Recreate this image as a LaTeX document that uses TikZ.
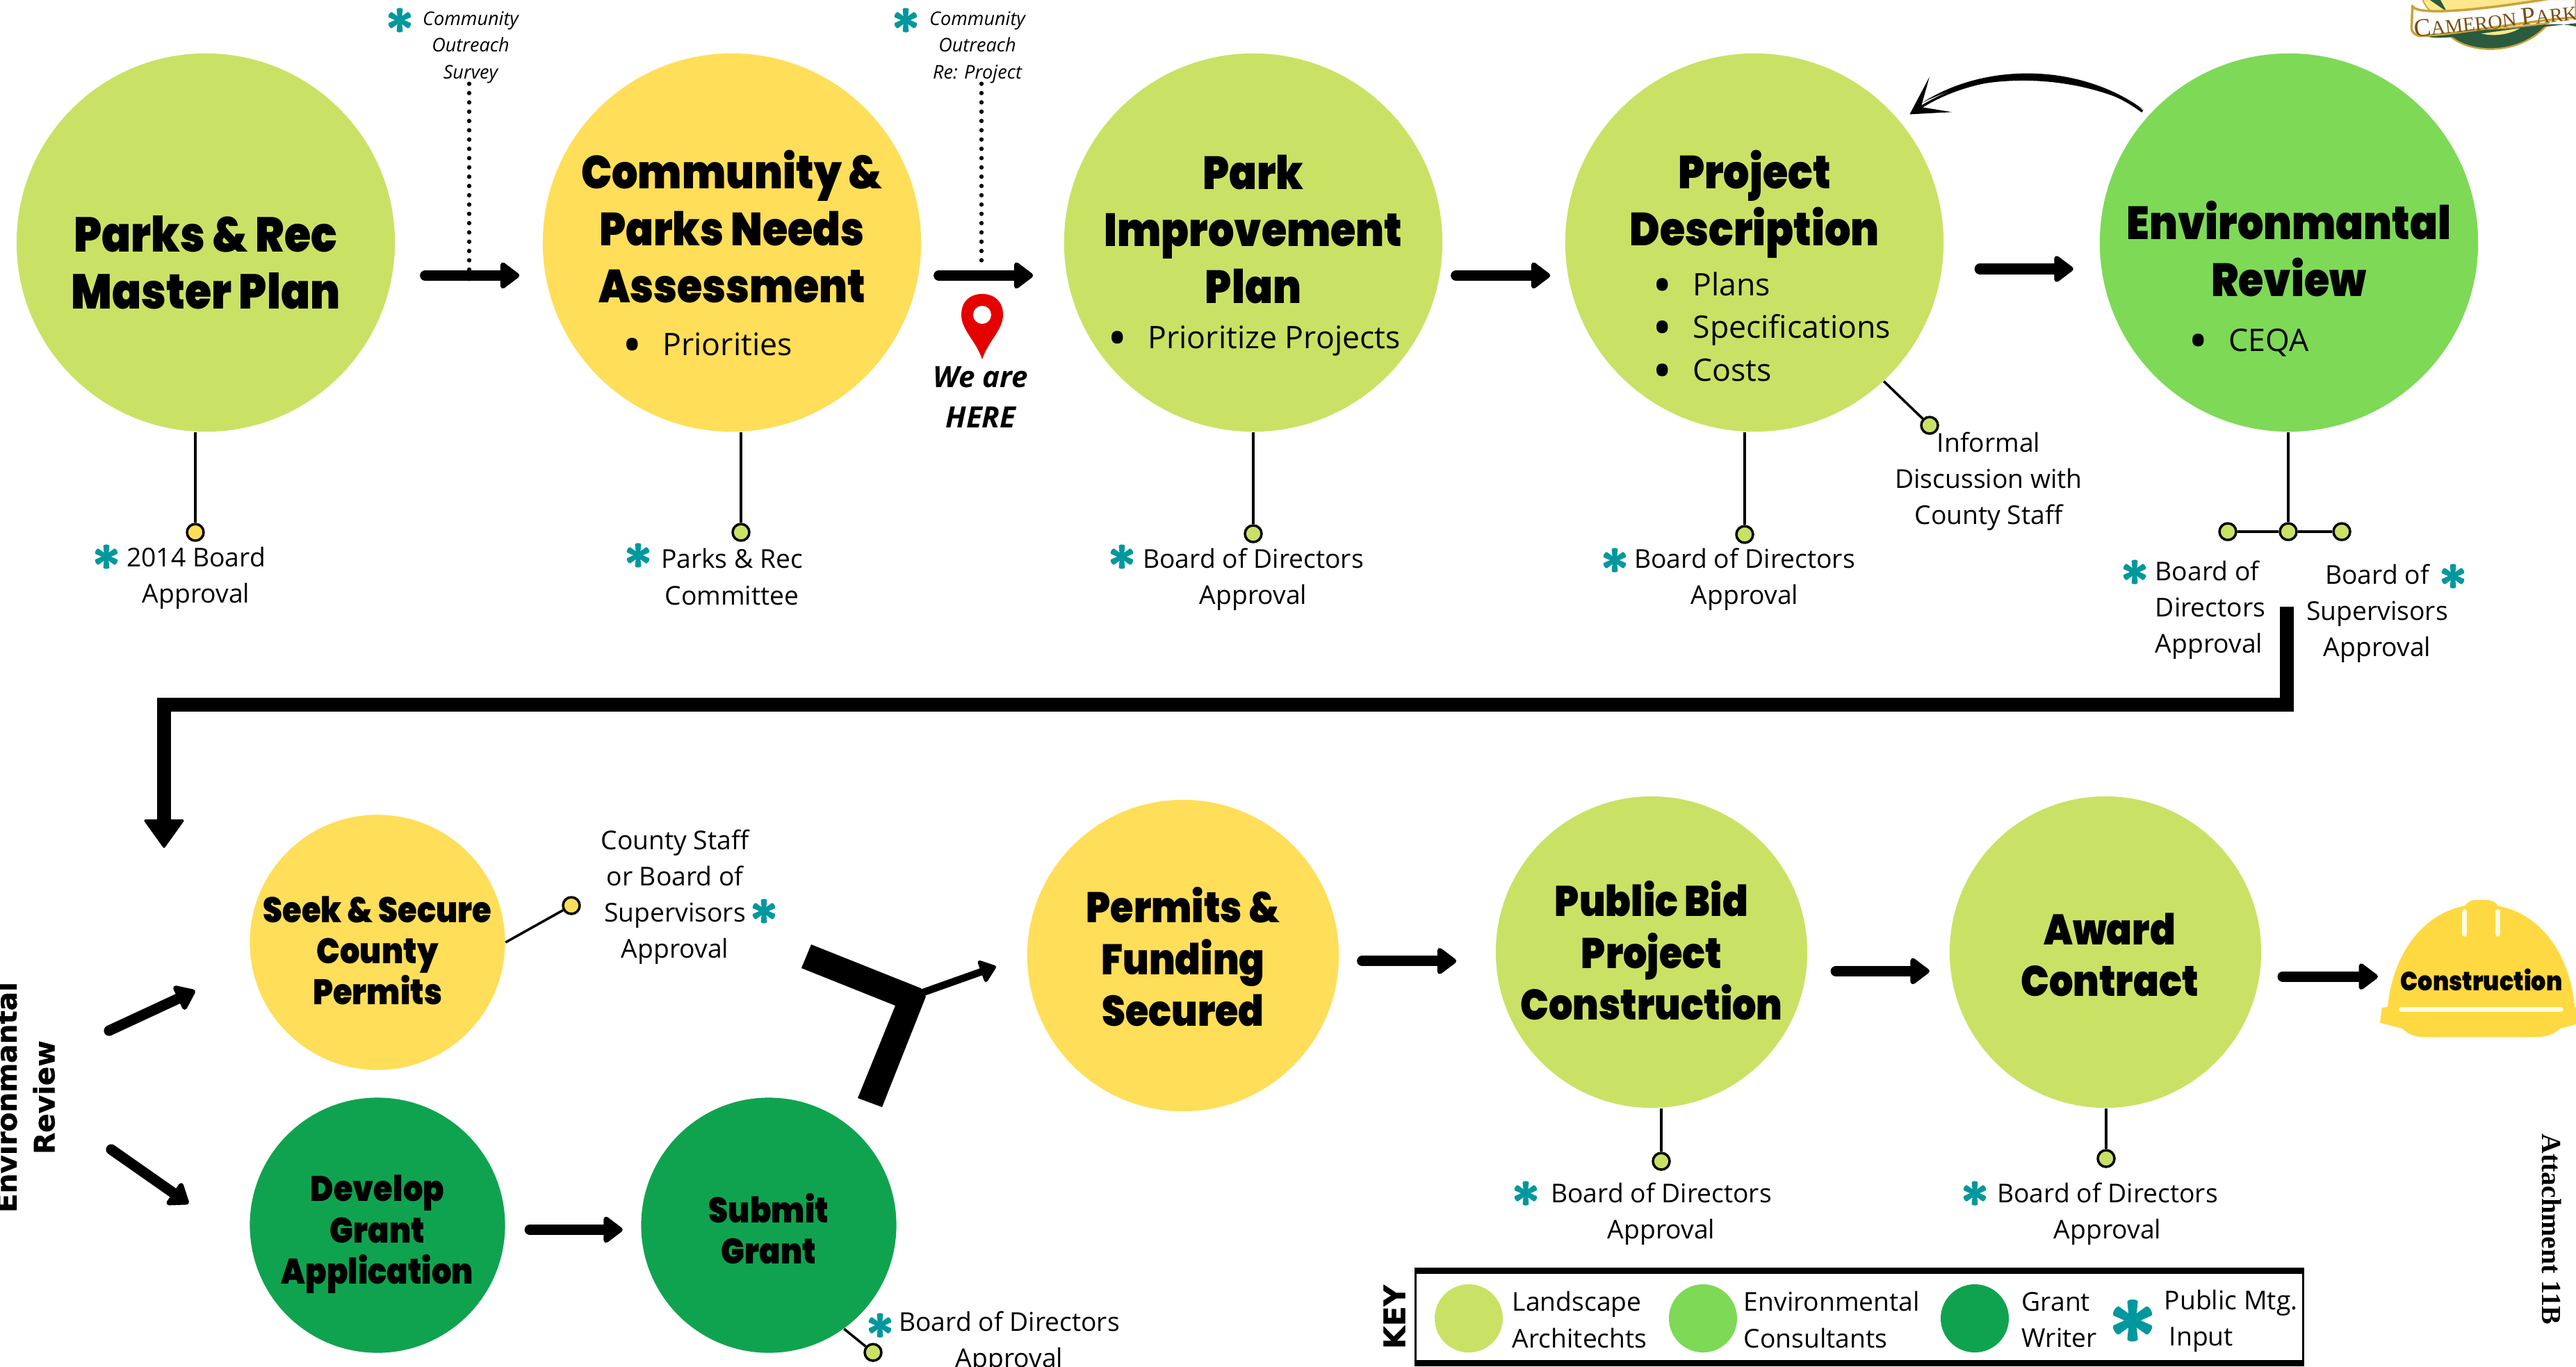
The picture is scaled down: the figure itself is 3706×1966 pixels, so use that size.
\documentclass[tikz,border=0pt]{standalone}
\usepackage{fontspec}
\usetikzlibrary{arrows.meta}
\setmainfont{Open Sans}
\newfontfamily\headfont{Poppins}[UprightFont=* Black,FakeStretch=0.88]
\newfontfamily\widefont{DejaVu Sans}[UprightFont=* Bold,FakeBold=1]
\newfontfamily\slabfont{Liberation Serif}[UprightFont=* Bold]
\newfontfamily\logofont{Liberation Serif}
\definecolor{limeC}{HTML}{C9E265}
\definecolor{yellowC}{HTML}{FFDE59}
\definecolor{mintC}{HTML}{7ED957}
\definecolor{greenC}{HTML}{10A34F}
\definecolor{tealC}{HTML}{00989E}
\definecolor{hatC}{HTML}{FFD942}
\definecolor{paleC}{HTML}{FFFDE0}
\definecolor{brownC}{HTML}{7A4E12}
\definecolor{goldC}{HTML}{C9A33A}
\definecolor{pineC}{HTML}{2A5B3F}
\newcommand{\blt}{\makebox[15pt][l]{\hspace*{-1.6pt}\raisebox{-.27em}[0pt][0pt]{\scalebox{1.7}{\textbullet}}}}
\tikzset{
	bubble/.style={circle,inner sep=0pt,minimum size=#1},
	bubble/.default=5.44cm,
	headA/.style={inner sep=0pt,align=center,font=\headfont\fontsize{19}{23.2}\selectfont},
	headB/.style={inner sep=0pt,align=center,font=\headfont\fontsize{17.5}{21.2}\selectfont},
	headC/.style={inner sep=0pt,align=center,font=\headfont\fontsize{14.5}{16.8}\selectfont},
	body/.style={inner sep=0pt,align=center,font=\fontsize{10.6}{14.8}\selectfont},
	bodyL/.style={inner sep=0pt,align=left,font=\fontsize{10.6}{14.8}\selectfont},
	note/.style={inner sep=0pt,align=center,font=\itshape\fontsize{7.7}{11}\selectfont},
	bullets/.style={inner sep=0pt,anchor=west,align=left,font=\fontsize{12.7}{17.5}\selectfont},
	knob/.style={circle,draw=black,line width=1pt,inner sep=0pt,minimum size=0.24cm},
	stem/.style={line width=1pt,line cap=butt},
	flow/.style={line width=4.3pt,line cap=round,-{Triangle[length=8.5pt,width=12.2pt,round,line width=2pt]}},
	thinflow/.style={line width=3pt,line cap=round,-{Triangle[length=7pt,width=10.5pt,round,line width=1.5pt]}},
	bigflow/.style={line width=5.7pt,line join=miter,-{Triangle[length=12pt,width=17pt,round,line width=1pt]}},
	dots/.style={line width=1.8pt,line cap=round,dash pattern=on 0pt off 3.8pt},
	pics/tealstar/.style={code={
		\foreach \a in {0,60,...,300}
			\fill[tealC,rotate=\a] (-2.8,0) -- (-4.4,-15.5) .. controls (-4.5,-18.3) and (4.5,-18.3) .. (4.4,-15.5) -- (2.8,0) -- cycle;
	}}
}
\begin{document}
\begin{tikzpicture}[x=0.01cm,y=-0.01cm,line join=round]
	\useasboundingbox (0,0) rectangle (3706,1966);
	% logo
	\begin{scope}[shift={(3400,0)},scale=1/3]
		\fill[pineC,draw=goldC,line width=0.7pt] (370,150) .. controls (450,235) and (680,245) .. (800,100) -- cycle;
		\fill[pineC] (225,140) .. controls (300,175) and (340,160) .. (400,160) -- (918,100) -- (918,115) .. controls (850,100) and (800,100) .. (740,120) -- cycle;
		\fill[yellowC!70!white,draw=goldC,line width=0.5pt] (255,-5) .. controls (270,40) and (300,60) .. (340,70) -- (860,-5) -- cycle;
		\fill[pineC] (280,-5) -- (360,50) -- (330,-5) -- cycle;
		\fill[white,draw=goldC,line width=1pt] (212,25) .. controls (220,60) and (400,60) .. (800,-5) -- (918,-5) -- (918,75) .. controls (700,90) and (400,150) .. (240,155) .. controls (225,150) and (210,140) .. (208,125) -- cycle;
		\fill[yellowC!70!white] (510,145) .. controls (570,160) and (640,145) .. (675,122) -- cycle;
	\end{scope}
	\node[rotate=6,inner sep=0pt,text=brownC,font=\logofont] (logotxt) at (3590,29)
		{\fontsize{10.4}{10.4}\selectfont C\fontsize{8.1}{8.1}\selectfont AMERON \fontsize{10.4}{10.4}\selectfont P\fontsize{8.1}{8.1}\selectfont ARK};
	% top row
	\node[bubble,fill=limeC] (master) at (296,349) {};
	\node[bubble,fill=yellowC] (needs) at (1053,349) {};
	\node[bubble,fill=limeC] (improve) at (1803,349) {};
	\node[bubble,fill=limeC] (descr) at (2524,349) {};
	\node[bubble,fill=mintC] (review) at (3293,349) {};
	\node[headA,font=\headfont\fontsize{20}{23.2}\selectfont] (masterT) at (296,378) {Parks \& Rec\\Master Plan};
	\node[headA] (needsT) at (1053,326) {Community \&\\Parks Needs\\Assessment};
	\node[headA] (improveT) at (1803,330) {Park\\Improvement\\Plan};
	\node[headA] (descrT) at (2524,294) {Project\\Description};
	\node[headA] (reviewT) at (3293,358) {Environmantal\\Review};
	\node[bullets] (needsB) at (900,495) {\blt Priorities};
	\node[bullets] (improveB) at (1598,490) {\blt Prioritize Projects};
	\node[bullets] (descrB) at (2382,470) {\blt Plans\\\blt Specifications\\\blt Costs};
	\node[bullets] (reviewB) at (3153,493) {\blt CEQA};
	% flow of the top row
	\draw[flow,shorten <=0.47cm,shorten >=0.37cm] (master.-10) -- (needs.190);
	\draw[flow,shorten <=0.29cm,shorten >=0.48cm] (needs.-10) -- (improve.190);
	\draw[flow,shorten <=0.23cm,shorten >=0.25cm] (improve.-10) -- (descr.190);
	\draw[flow,shorten <=0.54cm,shorten >=0.4cm] (descr.-8) -- (review.188);
	\draw[line width=1pt,line cap=butt,shorten <=0.1cm,shorten >=0.17cm,-{Stealth[length=15pt,width=17pt,inset=9.5pt]}] (review.138) .. controls (2995,95) and (2853,97) .. (descr.40);
	\fill (3084,158) .. controls (2995,92) and (2858,88) .. (2765,148) .. controls (2858,100) and (2995,108) .. cycle;
	% outreach
	\node[note] (survey) at (677,68) {Community\\Outreach\\Survey};
	\node[note] (outreach) at (1406,68) {Community\\Outreach\\Re: Project};
	\pic at (575,29) {tealstar};
	\pic at (1303,29) {tealstar};
	\coordinate (surveyEnd) at (675,406);
	\coordinate (outreachEnd) at (1412,384);
	\draw[dots] (surveyEnd |- survey.south) -- (surveyEnd);
	\draw[dots] (outreachEnd |- outreach.south) -- (outreachEnd);
	% we are here
	\fill[red!90!black] (1383,453) .. controls (1383,433) and (1396,423) .. (1413,423) .. controls (1430,423) and (1443,433) .. (1443,453) .. controls (1443,475) and (1422,490) .. (1413,517) .. controls (1404,490) and (1383,475) .. cycle;
	\fill[white] (1413,453) circle (13);
	\node[inner sep=0pt,align=center,font=\bfseries\itshape\fontsize{12}{16.5}\selectfont] (here) at (1411,571) {We are\\HERE};
	% approvals of the top row
	\node[knob,fill=yellowC] (kMaster) at (281,766) {};
	\node[knob,fill=limeC] (kNeeds) at (1066,766) {};
	\node[knob,fill=limeC] (kImprove) at (1803,768) {};
	\node[knob,fill=limeC] (kDescr) at (2510,769) {};
	\node[knob,fill=limeC] (kStaff) at (2776,612) {};
	\node[knob,fill=limeC] (kReview) at (3292,765) {};
	\node[knob,fill=limeC] (kBoard) at (3205,765) {};
	\node[knob,fill=limeC] (kSuper) at (3369,765) {};
	\draw[stem] (master.south -| kMaster) -- (kMaster);
	\draw[stem] (needs.south -| kNeeds) -- (kNeeds);
	\draw[stem] (improve.south -| kImprove) -- (kImprove);
	\draw[stem] (descr.south -| kDescr) -- (kDescr);
	\draw[stem] (descr.-47) -- (kStaff);
	\draw[stem] (review.south -| kReview) -- (kReview);
	\draw[stem] (kBoard) -- (kReview);
	\draw[stem] (kReview) -- (kSuper);
	\node[body] (lMaster) at (282,832) {2014 Board\\Approval};
	\node[body] (lNeeds) at (1053,830) {Parks \& Rec\\Committee};
	\node[body] (lImprove) at (1803,834) {Board of Directors\\Approval};
	\node[body] (lDescr) at (2510,834) {Board of Directors\\Approval};
	\node[body] (lStaff) at (2861,693) {Informal\\Discussion with\\County Staff};
	\node[bodyL] (lBoard) at (3180,878) {Board of\\Directors\\Approval};
	\node[body] (lSuper) at (3420,883) {Board of\\Supervisors\\Approval};
	\pic at (153,801) {tealstar};
	\pic at (918,799) {tealstar};
	\pic at (1614,801) {tealstar};
	\pic at (2323,806) {tealstar};
	\pic at (3071,823) {tealstar};
	\pic at (3529,829) {tealstar};
	% long way down
	\coordinate (turnA) at (3290,1014);
	\coordinate (turnB) at (236,1014);
	\coordinate (turnC) at (236,1220);
	\draw[bigflow,shorten <=2.51cm] (turnA |- review.south) -- (turnA) -- (turnB) -- (turnC);
	% lower row
	\node[rotate=90,inner sep=0pt,align=center,font=\widefont\fontsize{11.5}{15.5}\selectfont] (env) at (36,1579) {Environmantal\\Review};
	\node[bubble=3.67cm,fill=yellowC] (seek) at (543,1356) {};
	\node[bubble=3.67cm,fill=greenC] (grant) at (543,1763) {};
	\node[bubble=3.67cm,fill=greenC] (submit) at (1106,1763) {};
	\node[bubble=4.48cm,fill=yellowC] (funded) at (1702,1375) {};
	\node[bubble=4.48cm,fill=limeC] (bid) at (2376,1370) {};
	\node[bubble=4.48cm,fill=limeC] (award) at (3029,1370) {};
	\node[headC] (seekT) at (543,1368) {Seek \& Secure\\County\\Permits};
	\node[headC] (grantT) at (543,1776) {Develop\\Grant\\Application};
	\node[headC] (submitT) at (1106,1768) {Submit\\Grant};
	\node[headB] (fundedT) at (1702,1377) {Permits \&\\Funding\\Secured};
	\node[headB] (bidT) at (2376,1368) {Public Bid\\Project\\Construction};
	\node[headB] (awardT) at (3035,1374) {Award\\Contract};
	\coordinate (envUp) at (157,1483);
	\coordinate (envDown) at (160,1654);
	\draw[flow,shorten >=0.89cm] (envUp) -- (seek.190);
	\draw[flow,shorten >=1.1cm] (envDown) -- (grant.190);
	\draw[flow,shorten <=0.35cm,shorten >=0.26cm] (grant.-2) -- (submit.182);
	% merge of the two ways
	\fill (1167,1359) -- (1153,1393) -- (1288,1447) -- (1234,1580) -- (1269,1593) -- (1332,1434) -- (1325,1422) -- cycle;
	\coordinate (merge) at (1328,1428);
	\draw[thinflow,shorten >=0.47cm] (merge) -- (funded.180);
	\draw[flow,shorten <=0.33cm,shorten >=0.56cm] (funded.-2) -- (funded.-2 -| bid.west);
	\draw[flow,shorten <=0.42cm,shorten >=0.3cm] (bid.-7) -- (award.187);
	% helmet
	\begin{scope}[shift={(3350,1250)},scale=1/3]
		\fill[hatC] (222,665) -- (230,600) -- (255,596) .. controls (280,350) and (420,190) .. (590,160) .. controls (605,135) and (620,135) .. (660,135) .. controls (700,135) and (715,135) .. (730,160) .. controls (900,190) and (1040,350) .. (1062,596) -- (1068,598) -- (1068,672) -- (1000,690) .. controls (970,720) and (930,727) .. (880,727) -- (420,727) .. controls (370,727) and (345,715) .. (318,690) -- cycle;
		\draw[paleC,line width=1.9pt,line cap=round] (587,185) -- (587,283) (731,185) -- (731,283) (313,607) -- (1003,607);
	\end{scope}
	\node[headC,font=\headfont\fontsize{10.8}{12}\selectfont] (hat) at (3570,1410) {Construction};
	\draw[flow,shorten <=0.33cm,shorten >=0.32cm] (award.-9) -- (award.-9 -| hat.west);
	% approvals of the lower row
	\node[knob,fill=yellowC] (kSeek) at (822,1303) {};
	\node[knob,fill=limeC] (kSubmit) at (1256,1946) {};
	\node[knob,fill=limeC] (kBid) at (2390,1671) {};
	\node[knob,fill=limeC] (kAward) at (3030,1667) {};
	\draw[stem] (seek.east) -- (kSeek);
	\draw[stem] (submit.-54) -- (kSubmit);
	\draw[stem] (bid.south -| kBid) -- (kBid);
	\draw[stem] (award.south -| kAward) -- (kAward);
	\node[body] (lSeek) at (971,1291) {County Staff\\or Board of\\Supervisors\\Approval};
	\node[body] (lSubmit) at (1452,1932) {Board of Directors\\Approval};
	\node[body] (lBid) at (2390,1747) {Board of Directors\\Approval};
	\node[body] (lAward) at (3032,1747) {Board of Directors\\Approval};
	\pic at (1099,1311) {tealstar};
	\pic at (1266,1907) {tealstar};
	\pic at (2195,1717) {tealstar};
	\pic at (2841,1717) {tealstar};
	% key
	\node[draw=black,line width=0.9pt,inner sep=0pt,minimum width=12.76cm,minimum height=1.3cm] (keybox) at (2675,1895) {};
	\draw[line width=2.4pt,line cap=butt] (keybox.north west) -- (keybox.north east);
	\draw[line width=2.4pt,line cap=butt] (keybox.south west) -- (keybox.south east);
	\node[rotate=90,inner sep=0pt,font=\widefont\fontsize{12}{14}\selectfont] (keyT) at (2006,1895) {KEY};
	\node[bubble=0.98cm,fill=limeC] (keyA) at (2113,1897) {};
	\node[bubble=0.98cm,fill=mintC] (keyB) at (2450,1897) {};
	\node[bubble=0.98cm,fill=greenC] (keyC) at (2841,1897) {};
	\pic[scale=1.72] at (3068,1900) {tealstar};
	\node[bodyL,anchor=west] (keyAT) at (2175,1899) {Landscape\\Architechts};
	\node[bodyL,anchor=west] (keyBT) at (2508,1899) {Environmental\\Consultants};
	\node[bodyL,anchor=west] (keyCT) at (2908,1899) {Grant\\Writer};
	\node[bodyL,anchor=west] (keyDT) at (3113,1901) {Public Mtg.\\\hspace{2pt}Input};
	% side note
	\node[rotate=-90,inner sep=0pt,font=\slabfont\fontsize{11.3}{14}\selectfont] (attach) at (3671,1769) {Attachment 11B};
\end{tikzpicture}
\end{document}
